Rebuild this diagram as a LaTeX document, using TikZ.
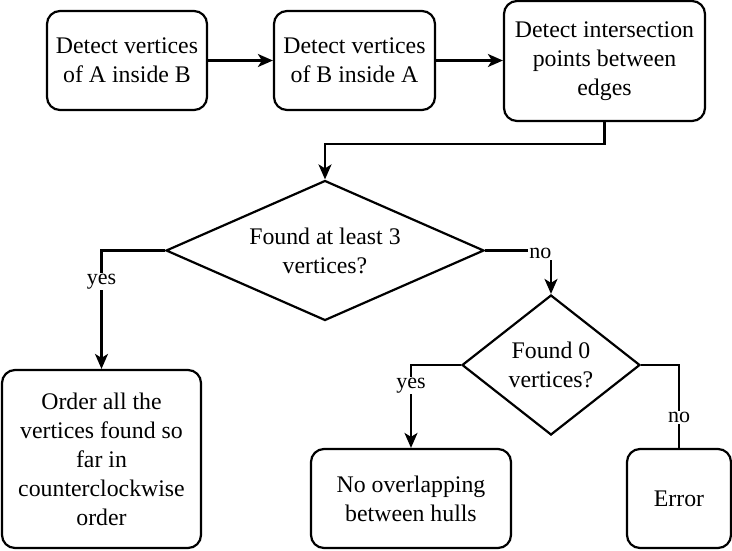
\documentclass[tikz,border=0pt]{standalone}
\usepackage{fontspec}
\setmainfont{Liberation Serif}
\usetikzlibrary{shapes.geometric,arrows.meta}
\begin{document}
\begin{tikzpicture}[x=1pt,y=-1pt,
  box/.style={draw, line width=2.2pt, rounded corners=13pt, align=center, inner sep=0pt, font=\fontsize{23.8}{29}\selectfont},
  dec/.style={draw, shape=diamond, line width=2.2pt, align=center, inner sep=0pt, font=\fontsize{23.8}{29}\selectfont},
  conn/.style={line width=2.2pt, -{Stealth[length=15pt,width=13pt,inset=4pt]}},
  plainline/.style={line width=2.2pt},
  lbl/.style={fill=white, inner sep=1pt, yshift=-3pt, font=\fontsize{22}{26}\selectfont}]
\useasboundingbox (0,0) rectangle (732,550);
\node[box, minimum width=160pt, minimum height=99pt] (b1) at (127,60.5) {Detect vertices\\of A inside B};
\node[box, minimum width=161pt, minimum height=99pt] (b2) at (354.5,60.5) {Detect vertices\\of B inside A};
\node[box, minimum width=201pt, minimum height=120pt] (b3) at (604.5,61) {Detect intersection\\points between\\edges};
\node[dec, minimum width=318pt, minimum height=140pt, shape aspect=2.27] (d1) at (325,250.5) {Found at least 3\\vertices?};
\node[dec, minimum width=178pt, minimum height=140pt, shape aspect=1.27] (d2) at (551,365) {Found 0\\vertices?};
\node[box, minimum width=199pt, minimum height=178pt] (b4) at (101.5,459) {Order all the\\vertices found so\\far in\\counterclockwise\\order};
\node[box, minimum width=200pt, minimum height=99pt] (b5) at (411,498.5) {No overlapping\\between hulls};
\node[box, minimum width=104pt, minimum height=99pt] (b6) at (679,498.5) {Error};

\draw[conn] (b1.east) -- (b2.west);
\draw[conn] (b2.east) -- (b2.east -| b3.west);
\draw[conn] (b3.south) -- ++(0,22) -| (d1.north);
\draw[conn] (d1.west) -| (b4.north) node[lbl, pos=0.62] {yes};
\draw[conn] (d1.east) -| (d2.north) node[lbl, pos=0.42] {no};
\draw[conn] (d2.west) -| (b5.north) node[lbl, pos=0.607] {yes};
\draw[plainline] (d2.east) -| (b6.north) node[lbl, pos=0.80] {no};
\end{tikzpicture}
\end{document}
